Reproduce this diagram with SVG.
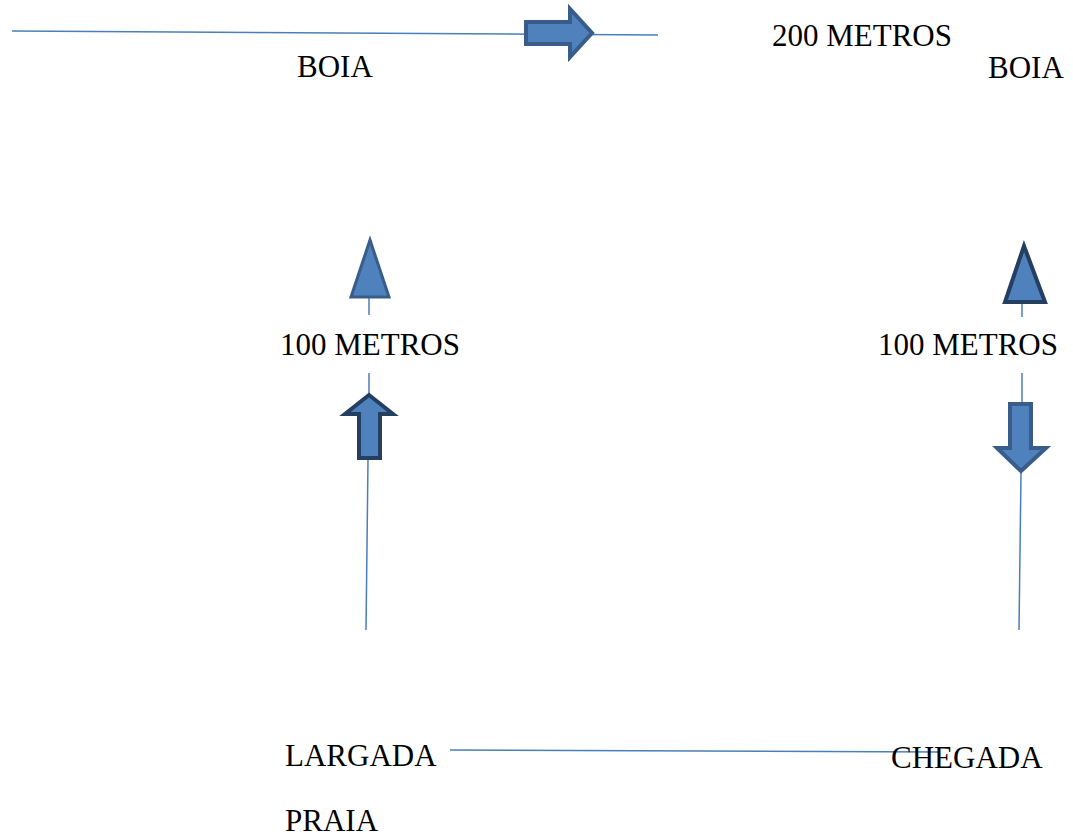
<svg xmlns="http://www.w3.org/2000/svg" width="1073" height="838" viewBox="0 0 1073 838">
<style>
.bg{fill:#ffffff}
.ln{stroke:#4a7ebb;stroke-width:1.5;fill:none}
.sh{fill:#4f81bd;stroke:#385d8a;stroke-width:4;stroke-linejoin:miter}
.dk{stroke:#243f60}
.t{font-family:"Liberation Serif","Times New Roman",serif;font-size:31px;fill:#000000}
</style>
<rect class="bg" x="0" y="0" width="1073" height="838"/>
<g id="connectors">
<line class="ln" x1="12" y1="31" x2="658" y2="35"/>
<line class="ln" x1="369" y1="298" x2="369" y2="315"/>
<line class="ln" x1="369" y1="373" x2="369" y2="393"/>
<line class="ln" x1="368" y1="460" x2="366" y2="630"/>
<line class="ln" x1="1022" y1="303" x2="1022" y2="317"/>
<line class="ln" x1="1022" y1="373" x2="1022" y2="403"/>
<line class="ln" x1="1021" y1="473" x2="1019" y2="630"/>
<line class="ln" x1="450" y1="750" x2="940" y2="752"/>
</g>
<g id="arrow-right">
<polygon class="sh" points="526,22 570,22 570,9 592,33 570,57 570,44 526,44"/>
</g>
<g id="triangle-left">
<polygon class="sh" style="stroke-width:3" points="370,240 389,297 351,297"/>
</g>
<g id="arrow-up">
<polygon class="sh dk" points="369,395 393,414 380,414 380,458 359,458 359,414 345,414"/>
</g>
<g id="triangle-right">
<polygon class="sh dk" points="1024,246 1045,302 1005,302"/>
</g>
<g id="arrow-down">
<polygon class="sh" points="1010,404 1031,404 1031,448 1046,448 1021,471 997,448 1010,448"/>
</g>
<g id="labels">
<text class="t" x="297" y="77">BOIA</text>
<text class="t" x="772" y="46">200 METROS</text>
<text class="t" x="988" y="78">BOIA</text>
<text class="t" x="280" y="355">100 METROS</text>
<text class="t" x="878" y="355">100 METROS</text>
<text class="t" x="285" y="766">LARGADA</text>
<text class="t" x="891" y="768">CHEGADA</text>
<text class="t" x="285" y="831">PRAIA</text>
</g>
</svg>
